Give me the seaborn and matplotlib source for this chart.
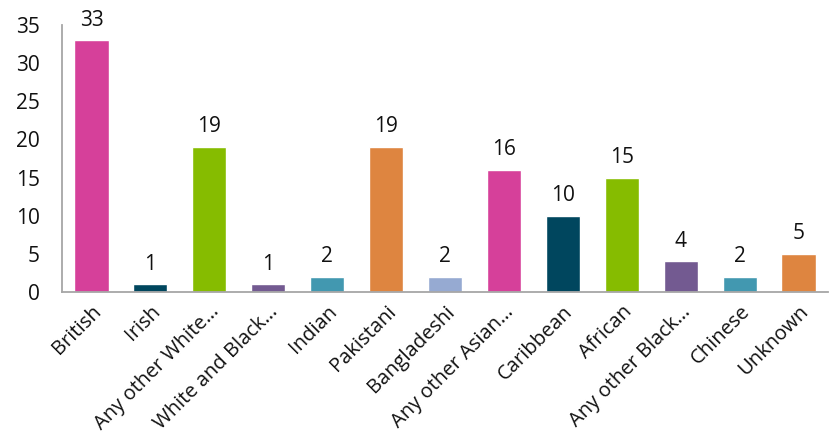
import matplotlib
matplotlib.use("Agg")
import matplotlib.pyplot as plt
import seaborn as sns
import pandas as pd

categories = ["British", "Irish", "Any other White\u2026", "White and Black\u2026", "Indian",
              "Pakistani", "Bangladeshi", "Any other Asian\u2026", "Caribbean", "African",
              "Any other Black\u2026", "Chinese", "Unknown"]
counts = [33, 1, 19, 1, 2, 19, 2, 16, 10, 15, 4, 2, 5]
bar_colors = ["#D6409A", "#00465E", "#86BC00", "#735A91", "#4298B0", "#DE8540",
              "#96AAD2", "#D6409A", "#00465E", "#86BC00", "#735A91", "#4298B0", "#DE8540"]
y_ticks = [0, 5, 10, 15, 20, 25, 30, 35]

sns.set_theme(style="white")
plt.rcParams["font.family"] = ["Open Sans", "DejaVu Sans"]

df = pd.DataFrame({"category": categories, "count": counts})

fig = plt.figure(figsize=(8.3, 4.41), dpi=100)
ax = fig.add_axes([0.0747, 0.3379, 0.9229, 0.6054])

sns.barplot(data=df, x="category", y="count", hue="category", palette=bar_colors,
            legend=False, width=0.58, saturation=1, ax=ax)

for i, v in enumerate(counts):
    ax.annotate(str(v), (i, v), xytext=(0, 7), textcoords="offset points",
                ha="center", va="bottom", fontsize=15, color="#111111")

ax.set_xlim(-0.5, len(categories) - 0.5)
ax.set_ylim(0, 35)
ax.set_yticks(y_ticks)
ax.set_yticklabels([str(t) for t in y_ticks], fontsize=15, color="#111111")
ax.set_xlabel("")
ax.set_ylabel("")
ax.tick_params(axis="y", length=0, pad=16)
ax.tick_params(axis="x", length=0, pad=7)
plt.setp(ax.get_xticklabels(), rotation=45, ha="right", rotation_mode="anchor",
         fontsize=14.5, color="#111111")

for side in ["top", "right"]:
    ax.spines[side].set_visible(False)
for side in ["left", "bottom"]:
    ax.spines[side].set_color("#A6A6A6")
    ax.spines[side].set_linewidth(1.3)

fig.savefig("out.png", dpi=100)
